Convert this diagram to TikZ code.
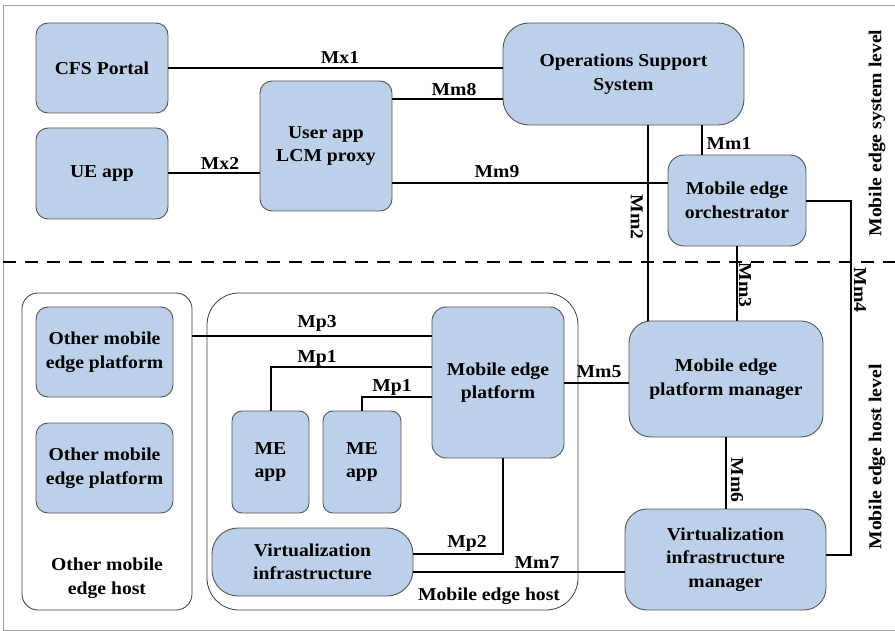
\documentclass[tikz,border=0pt]{standalone}
\usepackage{fontspec}
\setmainfont{Liberation Serif}[FakeStretch=1.08]
\begin{document}
\begin{tikzpicture}[x=1pt,y=-1pt,
  box/.style={draw=boxline, line width=0.9pt, fill=boxfill, rounded corners=#1, align=center, inner sep=0pt,
    font=\fontsize{18.2}{23.5}\selectfont\bfseries},
  box/.default=12pt,
  cont/.style={draw=contline, line width=0.8pt, rounded corners=#1},
  cont/.default=16pt,
  conn/.style={line width=2pt, black},
  lbl/.style={font=\fontsize{18.2}{21}\selectfont\bfseries, inner sep=0pt},
  txt/.style={font=\fontsize{18.2}{23.5}\selectfont\bfseries, align=center, inner sep=0pt}
]
\definecolor{boxfill}{HTML}{BDD0E9}
\definecolor{boxline}{HTML}{555555}
\definecolor{contline}{HTML}{3C3C3C}
\definecolor{frameline}{HTML}{A0A0A0}
\useasboundingbox (0,0) rectangle (895,631);
\draw[frameline, line width=1pt] (3,6) rectangle (898,630);
\draw[line width=1.8pt, dash pattern=on 13pt off 9pt] (3,262) -- (895,262);

% containers
\draw[cont=16pt] (22,293) rectangle (192,610);
\draw[cont=32pt] (207,293) rectangle (578,610);
\coordinate (ohostE) at (192,336);

% boxes
\node[box, minimum width=132pt, minimum height=90pt] (cfs) at (102,68) {CFS Portal};
\node[box, minimum width=132pt, minimum height=91pt] (ue) at (102,173.5) {UE app};
\node[box, minimum width=132pt, minimum height=130pt] (lcm) at (326,146) {User app\\LCM proxy};
\node[box=26pt, minimum width=241pt, minimum height=102pt] (oss) at (623.5,74) {Operations Support\\System};
\node[box=16pt, minimum width=138pt, minimum height=91pt] (meo) at (737,200.5) {Mobile edge\\orchestrator};
\node[box, minimum width=137pt, minimum height=90pt] (omep1) at (104.5,352) {Other mobile\\edge platform};
\node[box, minimum width=137pt, minimum height=90pt] (omep2) at (104.5,468) {Other mobile\\edge platform};
\node[box=10pt, minimum width=77pt, minimum height=102pt] (app1) at (270.5,462) {ME\\app};
\node[box=10pt, minimum width=78pt, minimum height=102pt] (app2) at (362,462) {ME\\app};
\node[box=26pt, minimum width=201pt, minimum height=68pt] (vi) at (312.5,562) {Virtualization\\infrastructure};
\node[box=14pt, minimum width=132pt, minimum height=151pt] (mep) at (498,382.5) {Mobile edge\\platform};
\node[box=22pt, minimum width=194pt, minimum height=116pt] (mepm) at (726,379) {Mobile edge\\platform manager};
\node[box=22pt, minimum width=201pt, minimum height=101pt] (vim) at (725.5,559.5) {Virtualization\\infrastructure\\manager};

% helper coordinates
\coordinate (h99) at (0,99);
\coordinate (h183) at (0,183);
\coordinate (h201) at (0,201);
\coordinate (h555) at (0,555);
\coordinate (h554) at (0,554);
\coordinate (h383) at (0,383);
\coordinate (h572) at (0,572);
\coordinate (h367) at (0,367);
\coordinate (h397) at (0,397);
\coordinate (x648) at (648,0);
\coordinate (x702) at (702,0);
\coordinate (x737) at (737,0);
\coordinate (x851) at (851,0);
\coordinate (x726) at (726,0);
\coordinate (x503) at (503,0);

% connectors
\draw[conn] (cfs.east) -- (cfs.east -| oss.west);
\draw[conn] (lcm.east |- h99) -- (oss.west |- h99);
\draw[conn] (ue.east) -- (ue.east -| lcm.west);
\draw[conn] (lcm.east |- h183) -- (meo.west |- h183);
\draw[conn] (oss.south -| x648) -- (mepm.north -| x648);
\draw[conn] (oss.south -| x702) -- (meo.north -| x702);
\draw[conn] (meo.east |- h201) -- (x851 |- h201) -- (x851 |- h555) -- (vim.east |- h555);
\draw[conn] (meo.south -| x737) -- (mepm.north -| x737);
\draw[conn] (mep.east |- h383) -- (mepm.west |- h383);
\draw[conn] (mepm.south -| x726) -- (vim.north -| x726);
\draw[conn] (vi.east |- h572) -- (vim.west |- h572);
\draw[conn] (mep.south -| x503) -- (x503 |- h554) -- (vi.east |- h554);
\draw[conn] (ohostE) -- (ohostE -| mep.west);
\draw[conn] (app1.north) -- (app1.north |- h367) -- (mep.west |- h367);
\draw[conn] (app2.north) -- (app2.north |- h397) -- (mep.west |- h397);

% labels
\node[lbl] (lMx1) at (340,57) {Mx1};
\node[lbl] (lMm8) at (454,90) {Mm8};
\node[lbl] (lMx2) at (220,163) {Mx2};
\node[lbl] (lMm9) at (497,172) {Mm9};
\node[lbl] (lMm1) at (729,143) {Mm1};
\node[lbl, rotate=-90] (lMm2) at (637,217) {Mm2};
\node[lbl, rotate=-90] (lMm3) at (745,285) {Mm3};
\node[lbl, rotate=-90] (lMm4) at (860,290) {Mm4};
\node[lbl, rotate=-90] (lMm6) at (737,480) {Mm6};
\node[lbl] (lMm5) at (599,372) {Mm5};
\node[lbl] (lMm7) at (537,563) {Mm7};
\node[lbl] (lMp2) at (467,543) {Mp2};
\node[lbl] (lMp3) at (317,323) {Mp3};
\node[lbl] (lMp1a) at (317,358) {Mp1};
\node[lbl] (lMp1b) at (392,387) {Mp1};
\node[txt] (tmeh) at (489,596) {Mobile edge host};
\node[txt] (tomeh) at (107,578) {Other mobile\\edge host};
\node[txt, rotate=90] (tsys) at (877,133) {Mobile edge system level};
\node[txt, rotate=90] (thost) at (877,457) {Mobile edge host level};
\end{tikzpicture}
\end{document}
